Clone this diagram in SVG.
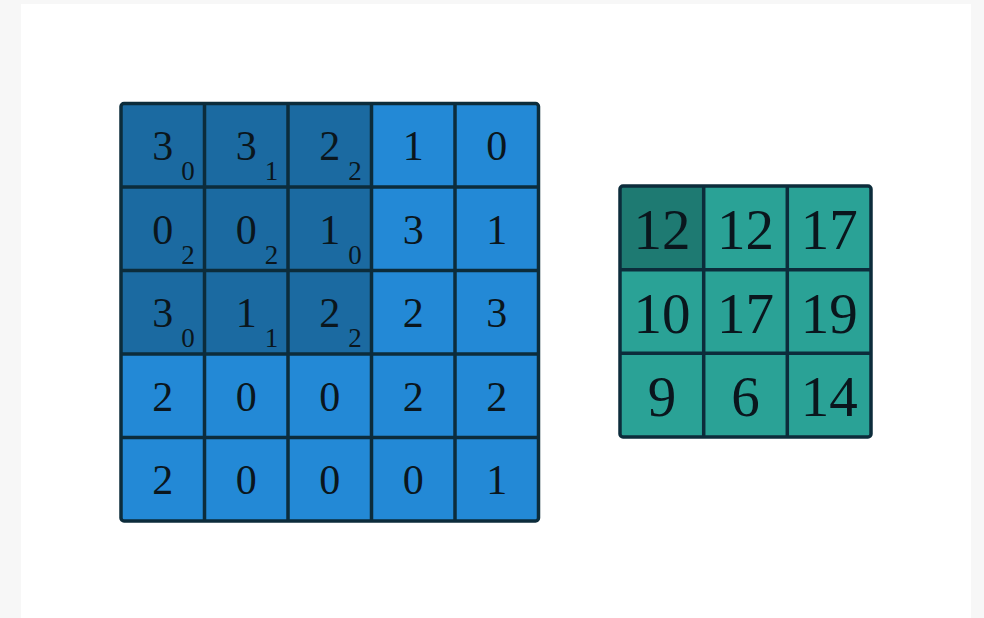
<svg xmlns="http://www.w3.org/2000/svg" width="984" height="618" viewBox="0 0 984 618">
<style>
.lb{fill:#2389d6}
.db{fill:#1b6aa1}
.lt{fill:#2aa296}
.dt{fill:#1e7a72}
.ln{stroke:#0c2c3b;stroke-width:3.5;fill:none}
.m{font-family:"Liberation Serif","DejaVu Serif",serif;font-size:42px;fill:#0a161d;text-anchor:middle}
.s{font-family:"Liberation Serif","DejaVu Serif",serif;font-size:27px;fill:#0a161d;text-anchor:middle}
.b{font-family:"Liberation Serif","DejaVu Serif",serif;font-size:57px;fill:#0a161d;text-anchor:middle}
</style>
<rect x="0" y="0" width="984" height="618" fill="#f7f7f7"/>
<rect x="21" y="4" width="950" height="614" fill="#ffffff"/>
<g id="input">
<rect x="121" y="103.5" width="417.5" height="417.5" rx="3" class="lb"/>
<rect x="121" y="103.5" width="250.5" height="250.5" rx="3" class="db"/>
<path class="ln" d="M204.5 103.5V521M288 103.5V521M371.5 103.5V521M455 103.5V521M121 187H538.5M121 270.5H538.5M121 354H538.5M121 437.5H538.5"/>
<rect x="121" y="103.5" width="417.5" height="417.5" rx="3" class="ln"/>
<text class="m" x="162.75" y="160">3</text><text class="s" x="188" y="180">0</text>
<text class="m" x="246.25" y="160">3</text><text class="s" x="271.5" y="180">1</text>
<text class="m" x="329.75" y="160">2</text><text class="s" x="355" y="180">2</text>
<text class="m" x="413.25" y="160">1</text>
<text class="m" x="496.75" y="160">0</text>
<text class="m" x="162.75" y="244">0</text><text class="s" x="188" y="264">2</text>
<text class="m" x="246.25" y="244">0</text><text class="s" x="271.5" y="264">2</text>
<text class="m" x="329.75" y="244">1</text><text class="s" x="355" y="264">0</text>
<text class="m" x="413.25" y="244">3</text>
<text class="m" x="496.75" y="244">1</text>
<text class="m" x="162.75" y="327">3</text><text class="s" x="188" y="347">0</text>
<text class="m" x="246.25" y="327">1</text><text class="s" x="271.5" y="347">1</text>
<text class="m" x="329.75" y="327">2</text><text class="s" x="355" y="347">2</text>
<text class="m" x="413.25" y="327">2</text>
<text class="m" x="496.75" y="327">3</text>
<text class="m" x="162.75" y="411">2</text>
<text class="m" x="246.25" y="411">0</text>
<text class="m" x="329.75" y="411">0</text>
<text class="m" x="413.25" y="411">2</text>
<text class="m" x="496.75" y="411">2</text>
<text class="m" x="162.75" y="494">2</text>
<text class="m" x="246.25" y="494">0</text>
<text class="m" x="329.75" y="494">0</text>
<text class="m" x="413.25" y="494">0</text>
<text class="m" x="496.75" y="494">1</text>
</g>
<g id="output">
<rect x="620" y="186" width="251" height="251" rx="3" class="lt"/>
<rect x="620" y="186" width="83.7" height="83.7" rx="2" class="dt"/>
<path class="ln" d="M703.7 186V437M787.3 186V437M620 269.7H871M620 353.3H871"/>
<rect x="620" y="186" width="251" height="251" rx="3" class="ln"/>
<text class="b" x="662" y="249">12</text>
<text class="b" x="745.5" y="249">12</text>
<text class="b" x="829.2" y="249">17</text>
<text class="b" x="662" y="332.5">10</text>
<text class="b" x="745.5" y="332.5">17</text>
<text class="b" x="829.2" y="332.5">19</text>
<text class="b" x="662" y="416">9</text>
<text class="b" x="745.5" y="416">6</text>
<text class="b" x="829.2" y="416">14</text>
</g>
<g id="connectors"></g>
</svg>
